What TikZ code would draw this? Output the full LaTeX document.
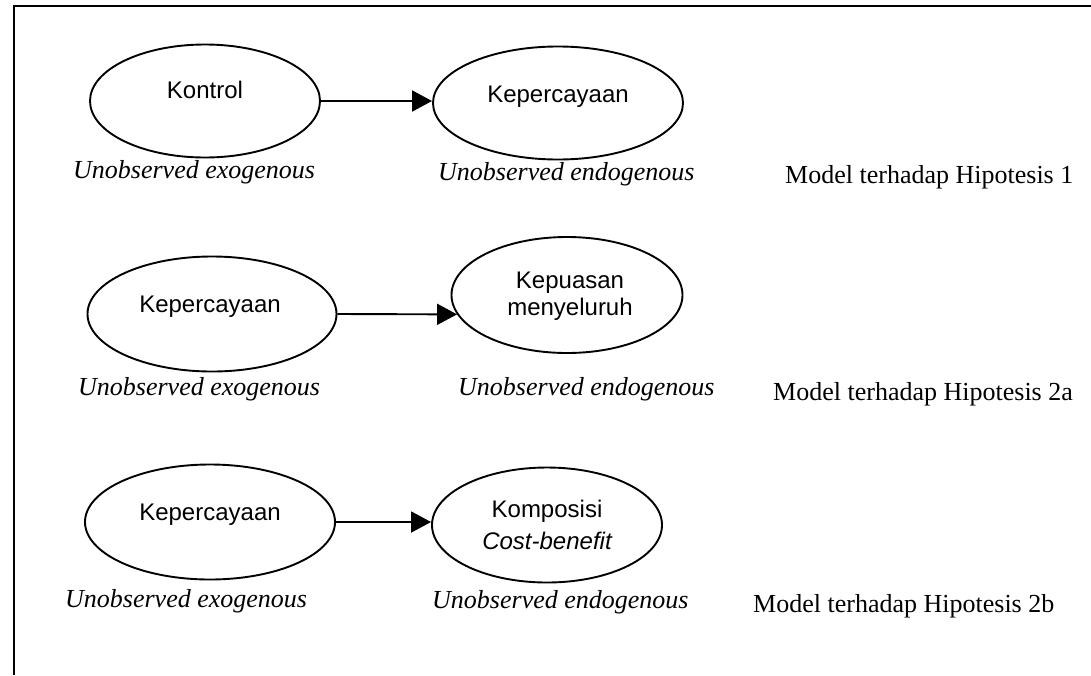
\documentclass[tikz,border=0pt]{standalone}
\usepackage{fontspec}
\setmainfont{Liberation Serif}
\newfontfamily\arialfont{Liberation Sans}
\usetikzlibrary{arrows.meta,shapes.geometric}

\begin{document}
\begin{tikzpicture}[x=1pt,y=-1pt,
  latent/.style={draw, ellipse, line width=1.9pt, inner sep=0pt},
  vartext/.style={font=\arialfont\fontsize{24}{28}\selectfont, anchor=base, inner sep=0pt},
  typelabel/.style={font=\fontsize{26}{30}\selectfont\itshape, anchor=base west, inner sep=0pt},
  modellabel/.style={font=\fontsize{26}{30}\selectfont, anchor=base west, inner sep=0pt},
  link/.style={line width=1.9pt, -{Triangle[length=20pt,width=21pt]}},
  frameline/.style={line width=2.4pt}
]
\useasboundingbox (0,0) rectangle (1091,675);

% open frame: top and left edges
\coordinate (fr0) at (14,6);
\coordinate (fr1) at (1091,6);
\coordinate (fr2) at (14,675);
\draw[frameline] (fr2) -- (fr0) -- (fr1);

% ---- Hipotesis 1 ----
\node[latent, minimum width=230pt, minimum height=113pt] (a1) at (205,101) {};
\node[latent, minimum width=250pt, minimum height=113pt] (b1) at (558,103) {};
\node[vartext] (a1t) at (205,98) {Kontrol};
\node[vartext] (b1t) at (558,102) {Kepercayaan};
\draw[link] (a1.east) -- (a1.east -| b1.west);
\node[typelabel] (a1l) at (73,178) {Unobserved exogenous};
\node[typelabel] (b1l) at (438,180) {Unobserved endogenous};
\node[modellabel] (m1) at (785,183) {Model terhadap Hipotesis 1};

% ---- Hipotesis 2a ----
\node[latent, minimum width=249pt, minimum height=115pt] (a2) at (212,314) {};
\node[latent, minimum width=231pt, minimum height=116pt] (b2) at (567,295) {};
\node[vartext] (a2t) at (210,312) {Kepercayaan};
\node[vartext] (b2t) at (570,288) {Kepuasan};
\node[vartext] (b2u) at (570,315) {menyeluruh};
\draw[link] (a2.east) -- (b2.190);
\node[typelabel] (a2l) at (78,395) {Unobserved exogenous};
\node[typelabel] (b2l) at (458,395) {Unobserved endogenous};
\node[modellabel] (m2) at (773,400) {Model terhadap Hipotesis 2a};

% ---- Hipotesis 2b ----
\node[latent, minimum width=250pt, minimum height=115pt] (a3) at (210,522) {};
\node[latent, minimum width=230pt, minimum height=115pt] (b3) at (547,525) {};
\node[vartext] (a3t) at (210,520) {Kepercayaan};
\node[vartext] (b3t) at (547,517) {Komposisi};
\node[vartext, font=\arialfont\itshape\fontsize{24}{28}\selectfont] (b3u) at (547,549) {Cost-benefit};
\draw[link] (a3.east) -- (a3.east -| b3.west);
\node[typelabel] (a3l) at (65,607) {Unobserved exogenous};
\node[typelabel] (b3l) at (432,608) {Unobserved endogenous};
\node[modellabel] (m3) at (753,612) {Model terhadap Hipotesis 2b};
\end{tikzpicture}
\end{document}
